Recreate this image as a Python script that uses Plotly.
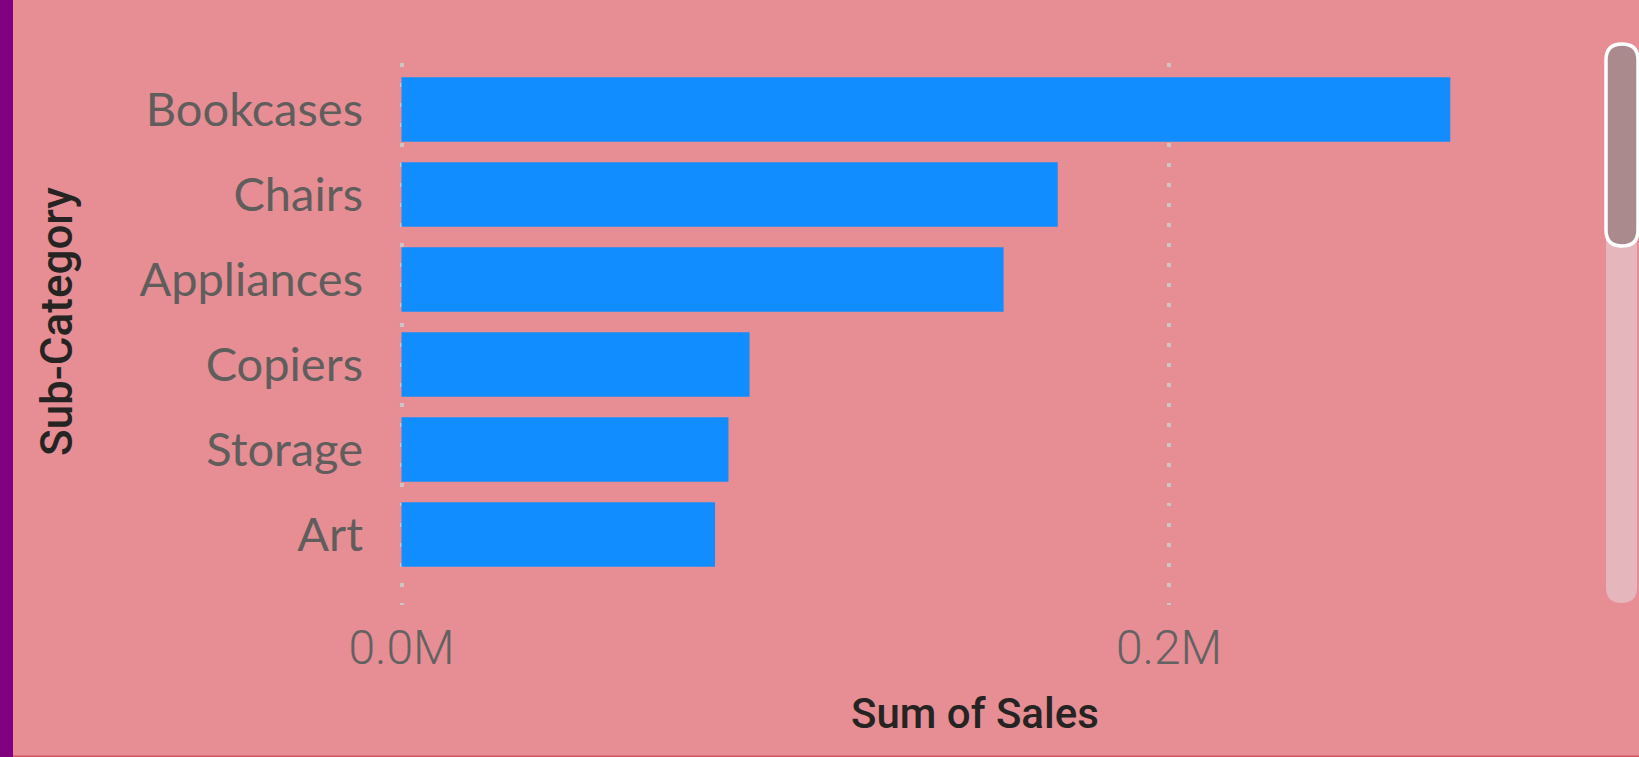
import plotly.graph_objects as go

# ---- data ----
categories = ["Bookcases", "Chairs", "Appliances", "Copiers", "Storage", "Art"]
sales = [273300, 171000, 156900, 90700, 85200, 81700]
x_tick_vals = [0, 200000]
x_tick_text = ["0.0M", "0.2M"]

W, H = 1639, 757
ML, MR, MT, MB = 399, 163, 63, 152
PW, PH = W - ML - MR, H - MT - MB

BG = "#E78E95"
BAR = "#118DFF"


def px(x):
    return (x - ML) / PW


def py(y):
    return 1 - (y - MT) / PH


def rounded_rect(x0, y0, x1, y1, r):
    # pixel coords -> paper path with rounded corners (quadratic curves)
    pts = [
        f"M{px(x0 + r)},{py(y0)}",
        f"L{px(x1 - r)},{py(y0)}",
        f"Q{px(x1)},{py(y0)} {px(x1)},{py(y0 + r)}",
        f"L{px(x1)},{py(y1 - r)}",
        f"Q{px(x1)},{py(y1)} {px(x1 - r)},{py(y1)}",
        f"L{px(x0 + r)},{py(y1)}",
        f"Q{px(x0)},{py(y1)} {px(x0)},{py(y1 - r)}",
        f"L{px(x0)},{py(y0 + r)}",
        f"Q{px(x0)},{py(y0)} {px(x0 + r)},{py(y0)}",
        "Z",
    ]
    return " ".join(pts)


fig = go.Figure(
    go.Bar(
        x=sales,
        y=categories,
        orientation="h",
        marker=dict(color=BAR, line=dict(width=0)),
        hoverinfo="skip",
    )
)

fig.update_layout(
    width=W,
    height=H,
    margin=dict(l=ML, r=MR, t=MT, b=MB, pad=0),
    paper_bgcolor=BG,
    plot_bgcolor=BG,
    bargap=0.241,
    showlegend=False,
    xaxis=dict(
        range=[-651, 280000],
        tickvals=x_tick_vals,
        ticktext=x_tick_text,
        showgrid=True,
        gridcolor="#CBC6C6",
        gridwidth=3.5,
        griddash="3.5px,16.5px",
        zeroline=False,
        showline=False,
        ticks="",
        ticklabelstandoff=10,
        tickfont=dict(family="Roboto", size=48, color="#626262", weight=300),
        fixedrange=True,
    ),
    yaxis=dict(
        type="category",
        categoryorder="array",
        categoryarray=categories,
        range=[5.83, -0.547],
        showgrid=False,
        zeroline=False,
        showline=False,
        ticks="",
        ticklabelstandoff=35,
        tickfont=dict(family="Lato", size=47, color="#605E5C"),
        fixedrange=True,
    ),
    annotations=[
        dict(
            text="Sum of Sales",
            xref="paper", yref="paper",
            x=px(975), y=py(713),
            xanchor="center", yanchor="middle",
            showarrow=False,
            font=dict(family="Roboto", size=42, color="#252423", weight=500),
        ),
        dict(
            text="Sub-Category",
            xref="paper", yref="paper",
            x=px(57), y=py(322),
            xanchor="center", yanchor="middle",
            textangle=-90,
            showarrow=False,
            font=dict(family="Roboto", size=44, color="#252423", weight=500),
        ),
    ],
    shapes=[
        # purple strip on the left
        dict(type="rect", xref="paper", yref="paper",
             x0=px(0), x1=px(13), y0=py(0), y1=py(H),
             fillcolor="#800080", line=dict(width=0), layer="above"),
        # bottom border line
        dict(type="rect", xref="paper", yref="paper",
             x0=px(13), x1=px(W), y0=py(755.5), y1=py(H),
             fillcolor="#D9545C", line=dict(width=0), layer="above"),
        # scrollbar track
        dict(type="path", xref="paper", yref="paper",
             path=rounded_rect(1606, 44, 1637, 603, 15.5),
             fillcolor="#E5B6BC", line=dict(width=0), layer="above"),
        # scrollbar thumb
        dict(type="path", xref="paper", yref="paper",
             path=rounded_rect(1606, 44, 1638, 246, 16),
             fillcolor="#AA8A8D", line=dict(color="#FFFFFF", width=3.5), layer="above"),
    ],
)

fig.write_html(
    "out.html",
    config={"displayModeBar": False},
    post_script="document.body.style.margin='0';document.body.style.overflow='hidden';",
)
